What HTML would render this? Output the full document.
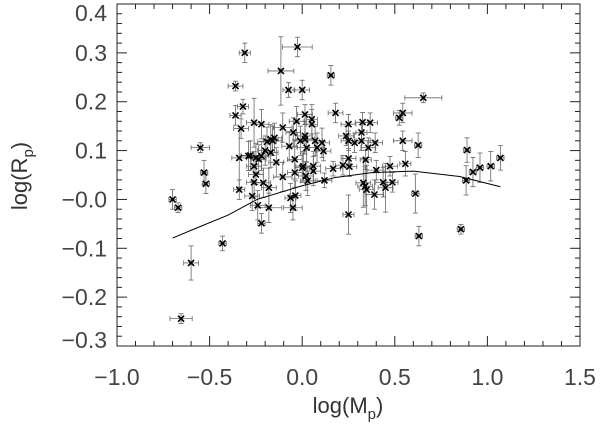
<!DOCTYPE html>
<html><head><meta charset="utf-8"><style>
html,body{margin:0;padding:0;background:#fff;}
svg{display:block;font-family:"Liberation Sans",sans-serif;}
</style></head><body>
<svg id="chart" width="600" height="427" viewBox="0 0 600 427" xmlns="http://www.w3.org/2000/svg">
<g id="axes"></g>
<g id="errs"></g>
<g id="marks"></g>
<g id="fit"></g>
<text x="348" y="413" font-size="22" fill="#333" text-anchor="middle">log(M<tspan font-size="15" dy="6">p</tspan><tspan dy="-6">)</tspan></text>
<text transform="translate(27,176) rotate(-90)" font-size="22" fill="#333" text-anchor="middle">log(R<tspan font-size="15" dy="6">p</tspan><tspan dy="-6">)</tspan></text>
</svg>
<script>
const px=[-0.70,-0.67,-0.654,-0.60,-0.55,-0.53,-0.52,-0.43,-0.36,-0.36,-0.32,-0.31,-0.33,-0.34,-0.34,-0.29,-0.26,-0.22,-0.27,-0.26,-0.25,-0.26,-0.24,-0.235,-0.22,-0.22,-0.21,-0.18,-0.18,-0.20,-0.17,-0.15,-0.17,-0.14,-0.105,-0.115,-0.105,-0.074,-0.07,-0.026,0.0,-0.048,-0.03,-0.04,-0.04,-0.063,-0.037,-0.05,0.015,0.015,0.015,0.006,0.02,0.03,0.024,0.052,0.052,0.06,0.06,0.07,0.08,0.115,0.107,0.12,0.155,0.18,0.167,0.22,0.237,0.25,0.25,0.25,0.255,0.25,0.283,0.32,0.326,0.32,0.33,0.34,0.348,0.343,0.357,0.367,0.394,0.40,0.39,0.437,0.45,0.474,0.487,0.524,0.543,0.543,0.557,0.611,0.626,0.63,0.654,0.857,0.885,0.89,0.922,0.96,1.018,1.07,-0.19,-0.16,-0.25,-0.28,0.0,-0.01];
const py=[0.0,-0.017,-0.244,-0.13,0.106,0.055,0.032,-0.09,0.232,0.172,0.19,0.30,0.145,0.085,0.02,0.089,0.157,0.154,0.007,0.068,0.051,0.035,-0.012,0.082,0.089,-0.049,0.034,0.024,-0.017,0.10,0.123,0.126,0.096,0.076,0.147,0.263,0.046,0.224,0.109,0.312,0.224,0.137,0.16,0.082,0.055,0.003,0.008,-0.017,0.174,0.13,0.123,0.068,0.048,0.038,0.106,0.164,0.154,0.068,0.058,0.12,0.106,0.099,0.116,0.039,0.254,0.177,0.063,0.07,0.13,0.154,0.12,0.084,0.067,-0.031,0.116,0.137,0.158,0.12,0.034,0.027,0.02,0.081,0.106,0.157,0.116,0.06,0.01,0.035,0.024,0.068,0.035,0.167,0.177,0.12,0.073,0.012,0.111,-0.075,0.208,-0.061,0.039,0.101,0.056,0.065,0.068,0.085,0.118,0.12,0.085,0.09,0.065,0.12];
const xe=[0.02,0.02,0.06,0.04,0.05,0.02,0.02,0.02,0.04,0.03,0.03,0.03,0.04,0.04,0.03,0.04,0.04,0.04,0.04,0.04,0.04,0.04,0.04,0.04,0.04,0.02,0.04,0.04,0.07,0.04,0.04,0.04,0.04,0.04,0.05,0.07,0.05,0.03,0.04,0.08,0.04,0.04,0.04,0.04,0.04,0.03,0.03,0.05,0.04,0.04,0.05,0.04,0.04,0.04,0.05,0.03,0.03,0.04,0.04,0.04,0.04,0.04,0.04,0.04,0.02,0.04,0.04,0.04,0.04,0.04,0.04,0.04,0.04,0.03,0.04,0.03,0.04,0.05,0.04,0.04,0.04,0.03,0.04,0.04,0.04,0.05,0.05,0.04,0.04,0.04,0.03,0.02,0.05,0.05,0.03,0.02,0.02,0.02,0.1,0.02,0.02,0.02,0.02,0.02,0.02,0.02,0.05,0.05,0.05,0.05,0.04,0.04];
const ye=[0.02,0.01,0.01,0.035,0.01,0.025,0.02,0.015,0.01,0.02,0.015,0.02,0.02,0.06,0.02,0.03,0.05,0.03,0.03,0.03,0.02,0.03,0.03,0.03,0.03,0.02,0.03,0.04,0.03,0.03,0.03,0.03,0.03,0.03,0.03,0.07,0.03,0.015,0.03,0.02,0.02,0.03,0.03,0.04,0.03,0.03,0.03,0.025,0.02,0.03,0.03,0.03,0.03,0.03,0.03,0.03,0.03,0.03,0.03,0.03,0.03,0.02,0.03,0.015,0.02,0.02,0.015,0.02,0.02,0.02,0.02,0.02,0.02,0.04,0.02,0.02,0.02,0.02,0.05,0.04,0.05,0.02,0.02,0.02,0.02,0.02,0.03,0.03,0.05,0.02,0.02,0.015,0.02,0.02,0.025,0.04,0.025,0.02,0.01,0.01,0.03,0.025,0.03,0.03,0.03,0.025,0.03,0.03,0.03,0.03,0.03,0.03];
const fitX=[-0.7,-0.58,-0.4,-0.244,0.0,0.18,0.38,0.6,0.85,1.07];
const fitY=[-0.079,-0.06,-0.032,0.0,0.028,0.045,0.055,0.058,0.047,0.026];
const xTicks=[-1.0,-0.5,0.0,0.5,1.0,1.5];
const xTickLabels=["\u22121.0","\u22120.5","0.0","0.5","1.0","1.5"];
const yTicks=[-0.3,-0.2,-0.1,0.0,0.1,0.2,0.3,0.4];
const yTickLabels=["\u22120.3","\u22120.2","\u22120.1","\u22120.0","0.1","0.2","0.3","0.4"];
const L=117,R=580,T=4,B=346;
const sx=v=>L+(v+1.0)/2.5*(R-L);
const sy=v=>B-(v+0.3)/0.7*(B-T);
const NS="http://www.w3.org/2000/svg";
function mk(t,a,p){const e=document.createElementNS(NS,t);for(const k in a)e.setAttribute(k,a[k]);p.appendChild(e);return e;}
const ax=document.getElementById('axes');
const fr=mk('rect',{x:L,y:T,width:R-L,height:B-T,fill:'none',stroke:'#222','stroke-width':1},ax);


for(let i=0;i<=25;i++){const v=-1+i*0.1,x=sx(v),big=i%5==0?10:5;
 mk('line',{x1:x,y1:B,x2:x,y2:B-big,stroke:'#222'},ax);mk('line',{x1:x,y1:T,x2:x,y2:T+big,stroke:'#222'},ax);}
for(let i=0;i<=35;i++){const v=-0.3+i*0.02,y=sy(v),big=i%5==0?10:5;
 mk('line',{x1:L,y1:y,x2:L+big,y2:y,stroke:'#222'},ax);mk('line',{x1:R,y1:y,x2:R-big,y2:y,stroke:'#222'},ax);}
xTicks.forEach((v,i)=>{const t=mk('text',{x:sx(v),y:B+39,'font-size':23,fill:'#444','text-anchor':'middle'},ax);t.textContent=xTickLabels[i];
 
 });
yTicks.forEach((v,i)=>{const yy=Math.min(Math.max(sy(v),13),340);const t=mk('text',{x:L-10,y:yy+8,'font-size':23,fill:'#444','text-anchor':'end'},ax);t.textContent=yTickLabels[i];
 
 });
const eg=document.getElementById('errs'),mg=document.getElementById('marks');
px.forEach((v,i)=>{const x=sx(v),y=sy(py[i]),x1=sx(v-xe[i]),x2=sx(v+xe[i]),y1=sy(py[i]-ye[i]),y2=sy(py[i]+ye[i]);
 const g=mk('g',{stroke:'#666','stroke-width':0.8},eg);
 
 
 mk('line',{x1:x1,y1:y,x2:x2,y2:y},g);mk('line',{x1:x1,y1:y-2.5,x2:x1,y2:y+2.5},g);mk('line',{x1:x2,y1:y-2.5,x2:x2,y2:y+2.5},g);
 mk('line',{x1:x,y1:y1,x2:x,y2:y2},g);mk('line',{x1:x-2.5,y1:y1,x2:x+2.5,y2:y1},g);mk('line',{x1:x-2.5,y1:y2,x2:x+2.5,y2:y2},g);
 const m=mk('path',{d:`M${x-3},${y-3}L${x+3},${y+3}M${x-3},${y+3}L${x+3},${y-3}`,stroke:'#000','stroke-width':1.6},mg);
 
 });
const fg=document.getElementById('fit');
const pl=mk('polyline',{points:fitX.map((v,i)=>sx(v)+','+sy(fitY[i])).join(' '),fill:'none',stroke:'#000','stroke-width':1},fg);


</script>
</body></html>
